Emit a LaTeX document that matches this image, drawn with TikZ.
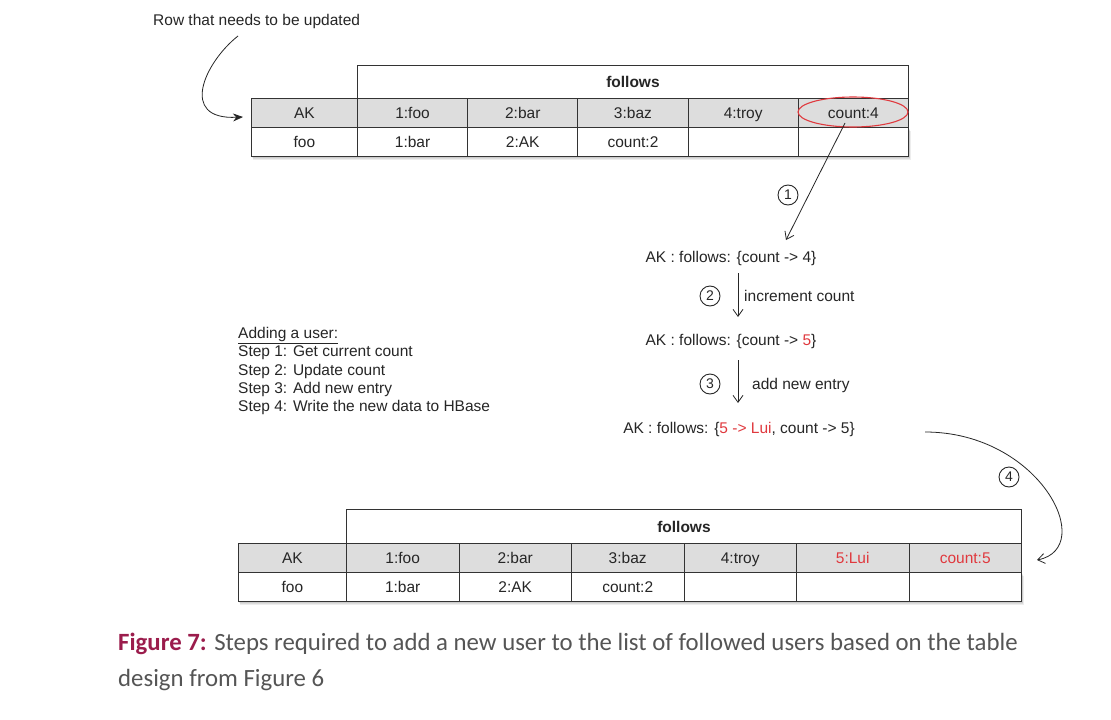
\documentclass[tikz,border=0pt]{standalone}
\usepackage{fontspec}
\setmainfont{Liberation Sans}
\newfontfamily\capfont{Carlito}
\usetikzlibrary{arrows.meta,shapes.geometric}
\definecolor{hlred}{HTML}{E0393E}
\definecolor{capred}{HTML}{9B1C4C}
\definecolor{capgray}{HTML}{555555}
\definecolor{hdrgray}{HTML}{DDDDDD}
\definecolor{linegray}{HTML}{333333}
\begin{document}
\begin{tikzpicture}[x=1pt,y=-1pt,
  every node/.style={font=\fontsize{15.5}{18.3}\selectfont, inner sep=0pt, text=black!85},
  cell/.style={draw=linegray, line width=0.9pt, anchor=north west, text height=11.1pt, text depth=0pt},
  hdr/.style={cell, fill=hdrgray, minimum height=29pt},
  body/.style={cell, fill=white, minimum height=28.5pt},
  folbox/.style={cell, fill=white, font=\fontsize{15.5}{18.3}\selectfont\bfseries},
  lbl/.style={anchor=base},
  lblw/.style={anchor=base west},
  num/.style={draw=black!85, circle, line width=0.9pt, minimum size=20pt, font=\fontsize{14}{14}\selectfont},
  arr/.style={draw=black!85, line width=0.8pt, -{Straight Barb[length=7pt,width=10pt]}},
  red/.style={text=hlred}
]
\useasboundingbox (0,0) rectangle (1111,720);
\fill[white] (0,0) rectangle (1111,720);

% ---------- top table ----------
\foreach \d in {1,...,4}
  \fill[black,opacity=0.07] (251+\d*0.6,127+\d) rectangle (908+\d*0.8,155+\d*1.3);
\node[folbox, minimum width=551pt, minimum height=33pt] (tfol) at (357,65) {follows};
\node[hdr, minimum width=106pt] (tAK) at (251,98) {AK};
\node[body, minimum width=106pt] (tfoo) at (251,127) {foo};
\node[hdr, minimum width=110.2pt] (th1) at (357,98) {1:foo};
\node[hdr, minimum width=110.2pt] (th2) at (467.2,98) {2:bar};
\node[hdr, minimum width=110.2pt] (th3) at (577.4,98) {3:baz};
\node[hdr, minimum width=110.2pt] (th4) at (687.6,98) {4:troy};
\node[hdr, minimum width=110.2pt] (th5) at (797.8,98) {count:4};
\node[body, minimum width=110.2pt] (tb1) at (357,127) {1:bar};
\node[body, minimum width=110.2pt] (tb2) at (467.2,127) {2:AK};
\node[body, minimum width=110.2pt] (tb3) at (577.4,127) {count:2};
\node[body, minimum width=110.2pt] (tb4) at (687.6,127) {};
\node[body, minimum width=110.2pt] (tb5) at (797.8,127) {};
\node[draw=hlred, ellipse, line width=1.1pt, minimum width=110pt, minimum height=30pt] (hl) at (853,112) {};

% ---------- top-left note ----------
\node[lblw] (rowtxt) at (153,25.5) {Row that needs to be updated};
\coordinate (c0s) at (238,36);
\coordinate (c0e) at (243,117);
\draw[line width=0.8pt, black!85, -{Stealth[length=10pt,width=8pt]}] (c0s) .. controls (205,62) and (178,120) .. (c0e);

% ---------- steps chain ----------
\node[lbl] (n1) at (731,262.5) {AK : follows: \{count -> 4\}};
\node[lbl] (n2) at (731,345.5) {AK : follows: \{count -> \textcolor{hlred}{5}\}};
\node[lbl] (n3) at (739,433.5) {AK : follows: \{\textcolor{hlred}{5 -> Lui}, count -> 5\}};

\coordinate (a1s) at (845,123);
\coordinate (a1e) at (786,240);
\draw[arr] (a1s) -- (a1e);
\node[num] (c1) at (788,195) {1};

\coordinate (a2s) at (738,273);
\coordinate (a2e) at (738,317);
\draw[arr] (a2s) -- (a2e);
\node[num] (c2) at (710,296) {2};
\node[lblw] (t2) at (744,301.5) {increment count};

\coordinate (a3s) at (738,360);
\coordinate (a3e) at (738,403);
\draw[arr] (a3s) -- (a3e);
\node[num] (c3) at (710,384) {3};
\node[lblw] (t3) at (752,389.5) {add new entry};

\coordinate (a4s) at (925,432);
\coordinate (a4e) at (1037,560);
\draw[arr] (a4s) .. controls (1040,432) and (1098,548) .. (a4e);
\node[num] (c4) at (1009,477) {4};

% ---------- steps list ----------
\node[lblw] (s0) at (238,338.5) {\underline{Adding a user:}};
\node[lblw] (s1) at (238,356.8) {Step 1: Get current count};
\node[lblw] (s2) at (238,375.1) {Step 2: Update count};
\node[lblw] (s3) at (238,393.4) {Step 3: Add new entry};
\node[lblw] (s4) at (238,411.7) {Step 4: Write the new data to HBase};

% ---------- bottom table ----------
\foreach \d in {1,...,4}
  \fill[black,opacity=0.07] (238+\d*0.6,572+\d) rectangle (1021+\d*0.8,600+\d*1.3);
\node[folbox, minimum width=675pt, minimum height=34pt] (bfol) at (346,509) {follows};
\node[hdr, minimum width=108pt] (bAK) at (238,543) {AK};
\node[body, minimum width=108pt] (bfoo) at (238,572) {foo};
\node[hdr, minimum width=112.5pt] (bh1) at (346,543) {1:foo};
\node[hdr, minimum width=112.5pt] (bh2) at (458.5,543) {2:bar};
\node[hdr, minimum width=112.5pt] (bh3) at (571,543) {3:baz};
\node[hdr, minimum width=112.5pt] (bh4) at (683.5,543) {4:troy};
\node[hdr, minimum width=112.5pt, red] (bh5) at (796,543) {5:Lui};
\node[hdr, minimum width=112.5pt, red] (bh6) at (908.5,543) {count:5};
\node[body, minimum width=112.5pt] (bb1) at (346,572) {1:bar};
\node[body, minimum width=112.5pt] (bb2) at (458.5,572) {2:AK};
\node[body, minimum width=112.5pt] (bb3) at (571,572) {count:2};
\node[body, minimum width=112.5pt] (bb4) at (683.5,572) {};
\node[body, minimum width=112.5pt] (bb5) at (796,572) {};
\node[body, minimum width=112.5pt] (bb6) at (908.5,572) {};

% ---------- caption ----------
\node[lblw, font=\capfont\fontsize{24.8}{29}\selectfont, text=capgray] (cap1) at (118,650)
  {\textcolor{capred}{\textbf{Figure 7:}} Steps required to add a new user to the list of followed users based on the table};
\node[lblw, font=\capfont\fontsize{24.8}{29}\selectfont, text=capgray] (cap2) at (118,686)
  {design from Figure 6};
\end{tikzpicture}
\end{document}
